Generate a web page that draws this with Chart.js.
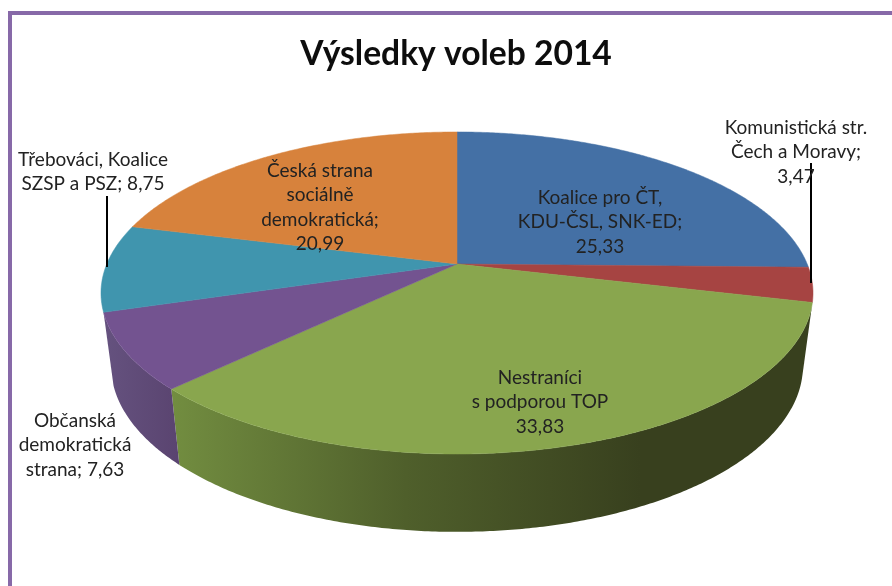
<!DOCTYPE html>
<html>
<head>
<meta charset="utf-8">
<title>Výsledky voleb 2014</title>
<script src="https://cdn.jsdelivr.net/npm/chart.js@4"></script>
<style>
  html, body { margin: 0; padding: 0; background: #fff; }
  #frame { position: absolute; left: 8px; top: 11px; right: 0; bottom: 0; border-left: 4px solid #8769a8; border-top: 4px solid #8769a8; }
  canvas { position: absolute; left: 0; top: 0; }
</style>
</head>
<body>
<div id="frame"></div>
<canvas id="pie3d" width="892" height="586"></canvas>
<script>
// data
const categories = [
  'Koalice pro ČT, KDU-ČSL, SNK-ED',
  'Komunistická str. Čech a Moravy',
  'Nestraníci s podporou TOP',
  'Občanská demokratická strana',
  'Třebováci, Koalice SZSP a PSZ',
  'Česká strana sociálně demokratická'
];
const values = [25.33, 3.47, 33.83, 7.63, 8.75, 20.99];
const topColors = ['#4470a5', '#a64442', '#89a64e', '#735390', '#4095ae', '#d7823c'];
const labelLines = [
  ['Koalice pro ČT,', 'KDU-ČSL, SNK-ED;'],
  ['Komunistická str.', 'Čech a Moravy;'],
  ['Nestraníci', 's podporou TOP'],
  ['Občanská', 'demokratická'],
  ['Třebováci, Koalice'],
  ['Česká strana', 'sociálně', 'demokratická;']
];
const valuePrefix = ['', '', '', 'strana; ', 'SZSP a PSZ; ', ''];

// where the labels and leader lines sit
const labelX = [600, 796, 540, 75, 93, 320];
const labelY = [198, 128, 378, 421, 160, 171];
const lineGap = 24.2;
const leaders = [[811, 163, 811, 283], [107, 196, 107, 267]];

// perspective of the top and the bottom face of the disc
const topFace = { cx: 457, cy: 264, a: 350.2, b: 155.8, k: 0.18 };
const botFace = { cx: 457, cy: 336, a: 340.3, b: 160.6, k: 0.18 };
// the visible wall runs from the red/green seam to the purple/teal seam
const wallFrom = 103.5 * Math.PI / 180;
const wallTo = 253 * Math.PI / 180;

function project(face, theta) {
  const u = Math.sin(theta), v = -Math.cos(theta);
  const d = 1 - face.k * v;
  return [face.cx + face.a * u / d, face.cy + face.b * v / d];
}

function wallFill(ctx, i) {
  const g = ctx.createLinearGradient(i === 2 ? 172 : 104, 0, i === 2 ? 640 : 178, 0);
  if (i === 2) {
    g.addColorStop(0, '#728d40');
    g.addColorStop(0.5, '#4f5f2b');
    g.addColorStop(1, '#38401e');
  } else {
    g.addColorStop(0, '#65527f');
    g.addColorStop(1, '#5a4470');
  }
  return g;
}

const pie3dPlugin = {
  id: 'pie3d',
  beforeDatasetsDraw(chart) {
    const ctx = chart.ctx;
    const arcs = chart.getDatasetMeta(0).data;
    const step = Math.PI / 360;

    ctx.save();
    // side wall first, only the part that faces the viewer
    arcs.forEach((arc, i) => {
      const s = Math.max(arc.startAngle + Math.PI / 2, wallFrom);
      const e = Math.min(arc.endAngle + Math.PI / 2, wallTo);
      if (e <= s) return;
      ctx.beginPath();
      for (let t = s; t < e; t += step) ctx.lineTo(...project(topFace, t));
      ctx.lineTo(...project(topFace, e));
      ctx.lineTo(...project(botFace, e));
      for (let t = e; t > s; t -= step) ctx.lineTo(...project(botFace, t));
      ctx.lineTo(...project(botFace, s));
      ctx.closePath();
      ctx.fillStyle = wallFill(ctx, i);
      ctx.fill();
    });
    // top face
    arcs.forEach((arc, i) => {
      const s = arc.startAngle + Math.PI / 2;
      const e = arc.endAngle + Math.PI / 2;
      ctx.beginPath();
      ctx.moveTo(topFace.cx, topFace.cy);
      for (let t = s; t < e; t += step) ctx.lineTo(...project(topFace, t));
      ctx.lineTo(...project(topFace, e));
      ctx.closePath();
      ctx.fillStyle = topColors[i];
      ctx.strokeStyle = topColors[i];
      ctx.lineWidth = 0.5;
      ctx.fill();
      ctx.stroke();
    });
    ctx.restore();
    return false; // the flat pie is replaced by the drawing above
  },
  afterDraw(chart) {
    const ctx = chart.ctx;
    ctx.save();
    // leader lines
    ctx.strokeStyle = '#000';
    ctx.lineWidth = 2;
    leaders.forEach(l => {
      ctx.beginPath();
      ctx.moveTo(l[0], l[1]);
      ctx.lineTo(l[2], l[3]);
      ctx.stroke();
    });
    // data labels
    ctx.font = '19px Lato';
    ctx.fillStyle = '#222';
    ctx.textAlign = 'center';
    ctx.textBaseline = 'middle';
    values.forEach((v, i) => {
      const lines = labelLines[i].concat(valuePrefix[i] + v.toFixed(2).replace('.', ','));
      lines.forEach((txt, j) => ctx.fillText(txt, labelX[i], labelY[i] + j * lineGap));
    });
    ctx.restore();
  }
};

new Chart(document.getElementById('pie3d'), {
  type: 'pie',
  data: {
    labels: categories,
    datasets: [{ data: values, backgroundColor: topColors, borderWidth: 0 }]
  },
  options: {
    responsive: false,
    animation: false,
    layout: { padding: { left: 20 } },
    plugins: {
      legend: { display: false },
      tooltip: { enabled: false },
      title: {
        display: true,
        text: 'Výsledky voleb 2014',
        fullSize: false,
        color: '#0d0d0d',
        font: { family: 'Lato', size: 33.6, weight: 'bold' },
        padding: { top: 34, bottom: 10 }
      }
    }
  },
  plugins: [pie3dPlugin]
});
</script>
</body>
</html>
